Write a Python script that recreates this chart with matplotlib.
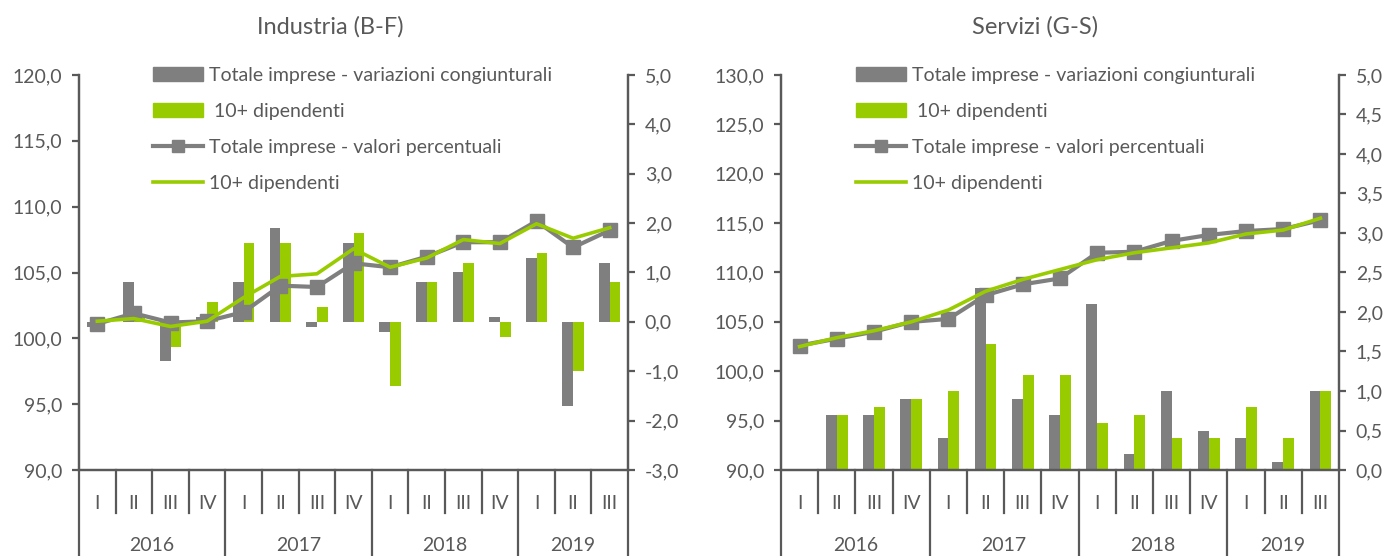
import matplotlib
matplotlib.use("Agg")
import matplotlib.pyplot as plt
import numpy as np
from matplotlib.patches import Patch
from matplotlib.lines import Line2D
from matplotlib.ticker import FuncFormatter

plt.rcParams['font.family'] = ['Lato', 'DejaVu Sans']

# categorie (trimestri)
quarters = ["I", "II", "III", "IV", "I", "II", "III", "IV",
            "I", "II", "III", "IV", "I", "II", "III"]
years = ["2016", "2017", "2018", "2019"]
year_len = [4, 4, 4, 3]

# Industria (B-F)
ind_var_tot = [-0.1, 0.8, -0.8, 0.1, 0.8, 1.9, -0.1, 1.6, -0.2, 0.8, 1.0, 0.1, 1.3, -1.7, 1.2]
ind_var_10 = [0.0, 0.1, -0.5, 0.4, 1.6, 1.6, 0.3, 1.8, -1.3, 0.8, 1.2, -0.3, 1.4, -1.0, 0.8]
ind_val_tot = [101.1, 101.9, 101.2, 101.3, 102.0, 104.0, 103.9, 105.7, 105.4, 106.2, 107.3, 107.3, 108.9, 106.9, 108.2]
ind_val_10 = [101.3, 101.5, 100.9, 101.3, 103.1, 104.7, 104.9, 106.8, 105.4, 106.1, 107.5, 107.2, 108.7, 107.6, 108.4]

# Servizi (G-S)
ser_var_tot = [0.0, 0.7, 0.7, 0.9, 0.4, 2.3, 0.9, 0.7, 2.1, 0.2, 1.0, 0.5, 0.4, 0.1, 1.0]
ser_var_10 = [0.0, 0.7, 0.8, 0.9, 1.0, 1.6, 1.2, 1.2, 0.6, 0.7, 0.4, 0.4, 0.8, 0.4, 1.0]
ser_val_tot = [102.6, 103.3, 104.0, 105.0, 105.3, 107.7, 108.8, 109.4, 112.0, 112.1, 113.2, 113.8, 114.2, 114.4, 115.3]
ser_val_10 = [102.5, 103.4, 104.1, 105.0, 106.2, 108.1, 109.3, 110.3, 111.3, 112.0, 112.5, 113.0, 113.9, 114.3, 115.5]

labels = ["Totale imprese - variazioni congiunturali", " 10+ dipendenti",
          "Totale imprese - valori percentuali", "10+ dipendenti"]

GRAY = "#7f7f7f"
GREEN = "#99cc00"
TXT = "#595959"
W, H = 1389, 556

fig = plt.figure(figsize=(W / 100, H / 100), dpi=100)

def comma(dec):
    return FuncFormatter(lambda v, p: f"{v:.{dec}f}".replace(".", ","))

def draw(rect, title, title_x, var_tot, var_10, val_tot, val_10,
         ylim_l, step_l, ylim_r, step_r):
    ax = fig.add_axes(rect)
    ax2 = ax.twinx()
    x = np.arange(len(quarters))
    bw = 0.29

    # barre (asse destro)
    ax2.bar(x - bw / 2, var_tot, bw, color=GRAY, zorder=2)
    ax2.bar(x + bw / 2, var_10, bw, color=GREEN, zorder=2)

    # linee (asse sinistro), sopra le barre
    ax.set_zorder(ax2.get_zorder() + 1)
    ax.patch.set_visible(False)
    ax.plot(x, val_tot, color=GRAY, lw=3, marker="s", ms=10, mfc=GRAY, mec=GRAY, zorder=3)
    ax.plot(x, val_10, color=GREEN, lw=2.6, zorder=4)

    ax.set_xlim(-0.5, len(quarters) - 0.5)
    ax.set_ylim(*ylim_l)
    ax.set_yticks(np.arange(ylim_l[0], ylim_l[1] + 0.01, step_l))
    ax.yaxis.set_major_formatter(comma(1))
    ax2.set_ylim(*ylim_r)
    ax2.set_yticks(np.arange(ylim_r[0], ylim_r[1] + 0.01, step_r))
    ax2.yaxis.set_major_formatter(comma(1))

    for a in (ax, ax2):
        a.spines["top"].set_visible(False)
        for s in ("left", "right", "bottom"):
            a.spines[s].set_color(TXT)
            a.spines[s].set_linewidth(1.6)
        a.tick_params(axis="y", colors=TXT, labelcolor=TXT, labelsize=14,
                      length=5, width=1.6, direction="out", pad=7)

    # asse categorie a due livelli
    ax.set_xticks(x)
    ax.set_xticklabels(quarters)
    ax.tick_params(axis="x", length=0, labelsize=14, labelcolor=TXT, pad=18)
    tr = ax.get_xaxis_transform()
    start = 0
    for yr, n in zip(years, year_len):
        ax.text(start + (n - 1) / 2, -0.19, yr, transform=tr, ha="center", va="center",
                fontsize=14, color=TXT)
        ax.plot([start - 0.5, start - 0.5], [0, -0.3], transform=tr, color=TXT,
                lw=1.6, clip_on=False)
        for k in range(1, n):
            ax.plot([start + k - 0.5] * 2, [0, -0.11], transform=tr, color=TXT,
                    lw=1.6, clip_on=False)
        start += n
    ax.plot([start - 0.5, start - 0.5], [0, -0.3], transform=tr, color=TXT,
            lw=1.6, clip_on=False)

    handles = [Patch(color=GRAY), Patch(color=GREEN),
               Line2D([], [], color=GRAY, lw=3, marker="s", ms=8),
               Line2D([], [], color=GREEN, lw=2.6)]
    ax.legend(handles, labels, loc="upper left", bbox_to_anchor=(0.12, 1.04),
              frameon=False, fontsize=14, labelcolor=TXT, handlelength=2.6,
              handletextpad=0.3, labelspacing=0.97, borderaxespad=0)

    fig.text(title_x / W, 1 - 27 / H, title, ha="center", va="center",
             fontsize=17, color=TXT)

# posizioni in pixel: asse y da 75 a 470
def rect(x0, x1):
    return [x0 / W, (H - 470) / H, (x1 - x0) / W, (470 - 75) / H]

draw(rect(79, 628), "Industria (B-F)", 330, ind_var_tot, ind_var_10, ind_val_tot, ind_val_10,
     (90, 120), 5, (-3, 5), 1)
draw(rect(781, 1339), "Servizi (G-S)", 1035, ser_var_tot, ser_var_10, ser_val_tot, ser_val_10,
     (90, 130), 5, (0, 5), 0.5)

fig.savefig("out.png", dpi=100)
